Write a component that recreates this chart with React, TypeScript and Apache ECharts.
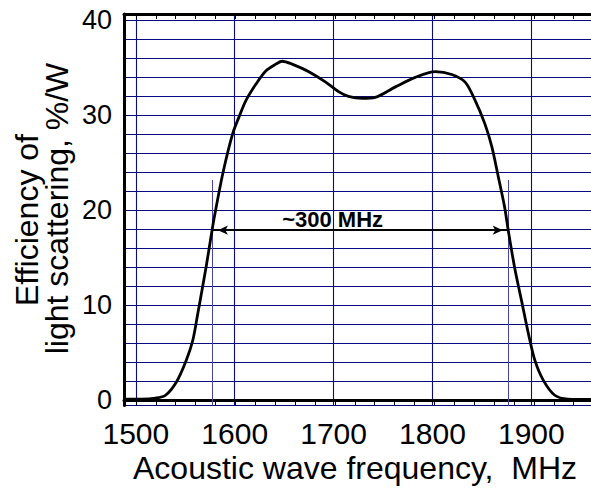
import React, { useEffect, useRef } from 'react';
import * as echarts from 'echarts';

// Measured curve: acoustic frequency (MHz) vs efficiency (%/W)
const frequencies = [1488, 1505, 1520, 1530, 1541, 1551, 1557.6, 1562.6, 1571, 1576, 1579.4, 1588, 1598, 1605, 1611.5, 1621.5, 1631.6, 1641.7, 1648, 1658, 1675, 1692, 1705, 1715, 1729, 1742, 1762.5, 1782.6, 1802.8, 1819.5, 1833, 1843, 1853, 1860, 1866.6, 1873, 1876.6, 1883, 1890, 1897, 1903.5, 1912, 1923.7, 1937, 1967];
const efficiency = [0.1, 0.1, 0.2, 0.5, 1.9, 4.2, 6.3, 9.1, 14.0, 17.2, 19.3, 23.9, 28.1, 30.0, 31.6, 33.3, 34.7, 35.4, 35.7, 35.4, 34.6, 33.5, 32.5, 32.0, 31.8, 31.9, 33.0, 34.0, 34.6, 34.3, 33.5, 31.6, 29.1, 26.7, 23.5, 20.3, 17.9, 14.0, 10.5, 7.0, 4.2, 2.1, 0.5, 0.1, 0.05];

// Tick labels
const xTickLabels = [1500, 1600, 1700, 1800, 1900];
const yTickLabels = [0, 10, 20, 30, 40];

// Band-width annotation
const bandEdges = [1577.4, 1876.9];
const arrowEnds = [1583, 1871];
const arrowLevel = 17.9;
const markerTop = 23.2;
const bandLabel = '~300 MHz';
const bandLabelPos = [1699, 19];

const xTitle = 'Acoustic wave frequency,  MHz';
const yTitleLines = ['Efficiency of', 'light scattering, %/W'];

// Axis ranges
const X_MIN = 1488;
const X_MAX = 1967.4;
const Y_MIN = -0.58;
const Y_MAX = 40.68;

const FONT = 'Liberation Sans, Arial, Helvetica, sans-serif';
const GRID_BLUE = '#0a0a82';

const VIEW_W = 591;
const VIEW_H = 488;
const CHART_W = 601;

export default function App() {
  const ref = useRef<HTMLDivElement>(null);

  useEffect(() => {
    if (!ref.current) return;
    const chart = echarts.init(ref.current, undefined, { renderer: 'svg' });

    const gridLeft = 124;
    const pxPerMHz = (CHART_W - gridLeft) / (X_MAX - X_MIN);
    const tickGridLeft = gridLeft + (1500 - X_MIN) * pxPerMHz;
    const gridTop = 14;
    const gridBottom = 82.5;

    const data = frequencies.map((f, i) => [f, efficiency[i]]);

    const isLabelX = (v: number) => xTickLabels.some((t) => Math.abs(t - v) < 1e-6);
    const isLabelY = (v: number) => yTickLabels.some((t) => Math.abs(t - v) < 1e-6);

    const option: any = {
      animation: false,
      backgroundColor: '#ffffff',
      grid: [
        { left: gridLeft, right: 0, top: gridTop, bottom: gridBottom },
        { left: tickGridLeft, right: 0, top: gridTop, bottom: gridBottom },
      ],
      xAxis: [
        {
          type: 'value',
          gridIndex: 0,
          position: 'bottom',
          min: X_MIN,
          max: X_MAX,
          minInterval: 100,
          maxInterval: 100,
          axisLine: { show: true, lineStyle: { color: '#000', width: 3 } },
          axisTick: { show: false },
          axisLabel: {
            show: true,
            margin: 13,
            fontSize: 30,
            fontFamily: FONT,
            color: '#000',
            showMinLabel: true,
            showMaxLabel: true,
            formatter: (v: number) => (isLabelX(v) ? String(Math.round(v)) : ''),
          },
          splitLine: { show: true, lineStyle: { color: GRID_BLUE, width: 1.1 } },
        },
        {
          type: 'value',
          gridIndex: 0,
          position: 'top',
          min: X_MIN,
          max: X_MAX,
          axisLine: { show: true, lineStyle: { color: '#000', width: 3 } },
          axisTick: { show: false },
          axisLabel: { show: false },
          splitLine: { show: false },
        },
        {
          type: 'value',
          gridIndex: 1,
          position: 'bottom',
          min: 1500,
          max: X_MAX,
          interval: 20,
          axisLine: { show: false },
          axisTick: { show: true, inside: true, length: 5, lineStyle: { color: '#000', width: 1 } },
          axisLabel: { show: false },
          splitLine: { show: false },
        },
        {
          type: 'value',
          gridIndex: 1,
          position: 'top',
          min: 1500,
          max: X_MAX,
          interval: 20,
          axisLine: { show: false },
          axisTick: { show: true, inside: true, length: 5, lineStyle: { color: '#000', width: 1 } },
          axisLabel: { show: false },
          splitLine: { show: false },
        },
      ],
      yAxis: [
        {
          type: 'value',
          gridIndex: 0,
          min: Y_MIN,
          max: Y_MAX,
          minInterval: 2,
          maxInterval: 2,
          axisLine: { show: true, lineStyle: { color: '#000', width: 3 } },
          axisTick: { show: false },
          axisLabel: {
            show: true,
            margin: 12,
            fontSize: 27,
            fontFamily: FONT,
            color: '#000',
            showMinLabel: true,
            showMaxLabel: true,
            formatter: (v: number) => (isLabelY(v) ? String(Math.round(v)) : ''),
          },
          splitLine: { show: true, lineStyle: { color: GRID_BLUE, width: 1.1 } },
        },
        {
          type: 'value',
          gridIndex: 1,
          min: 0,
          max: 1,
          show: false,
          axisLine: { show: false },
          axisTick: { show: false },
          axisLabel: { show: false },
          splitLine: { show: false },
        },
      ],
      series: [
        {
          type: 'line',
          xAxisIndex: 0,
          yAxisIndex: 0,
          data,
          smooth: 0.3,
          showSymbol: false,
          symbol: 'none',
          lineStyle: { color: '#000', width: 2.8 },
          z: 5,
          markLine: {
            silent: true,
            symbol: 'none',
            label: { show: false },
            data: [
              [
                { coord: [bandEdges[0], Y_MIN], lineStyle: { color: '#4444a8', width: 1, type: 'solid' } },
                { coord: [bandEdges[0], markerTop] },
              ],
              [
                { coord: [bandEdges[1], Y_MIN], lineStyle: { color: '#4444a8', width: 1, type: 'solid' } },
                { coord: [bandEdges[1], markerTop] },
              ],
              [
                { coord: [bandEdges[0], arrowLevel], lineStyle: { color: '#000', width: 2, type: 'solid' } },
                { coord: [bandEdges[1], arrowLevel] },
              ],
              [
                {
                  coord: [arrowEnds[0], arrowLevel],
                  symbol: 'arrow',
                  symbolSize: [7, 10],
                  lineStyle: { color: '#000', width: 2, type: 'solid' },
                },
                { coord: [arrowEnds[1], arrowLevel], symbol: 'arrow', symbolSize: [7, 10] },
              ],
            ],
          },
          markPoint: {
            silent: true,
            symbol: 'circle',
            symbolSize: 1,
            itemStyle: { color: 'rgba(0,0,0,0)' },
            label: {
              show: true,
              position: 'inside',
              formatter: bandLabel,
              fontSize: 22,
              fontWeight: 'bold',
              fontFamily: FONT,
              color: '#000',
            },
            data: [{ coord: bandLabelPos }],
          },
        },
      ],
      graphic: [
        {
          type: 'text',
          x: 27,
          y: 220,
          rotation: Math.PI / 2,
          style: {
            text: yTitleLines[0],
            fontSize: 32,
            fontFamily: FONT,
            fill: '#000',
            textAlign: 'center',
            textVerticalAlign: 'middle',
          },
        },
        {
          type: 'text',
          x: 57,
          y: 208.5,
          rotation: Math.PI / 2,
          style: {
            text: yTitleLines[1],
            fontSize: 32,
            fontFamily: FONT,
            fill: '#000',
            textAlign: 'center',
            textVerticalAlign: 'middle',
          },
        },
        {
          type: 'text',
          x: 355,
          y: 467.5,
          style: {
            text: xTitle,
            fontSize: 32,
            fontFamily: FONT,
            fill: '#000',
            textAlign: 'center',
            textVerticalAlign: 'middle',
          },
        },
      ],
    };

    chart.setOption(option);
    return () => {
      chart.dispose();
    };
  }, []);

  return (
    <div
      style={{
        position: 'fixed',
        left: 0,
        top: 0,
        width: VIEW_W,
        height: VIEW_H,
        overflow: 'hidden',
        background: '#fff',
      }}
    >
      <div ref={ref} style={{ width: CHART_W, height: VIEW_H }} />
    </div>
  );
}
